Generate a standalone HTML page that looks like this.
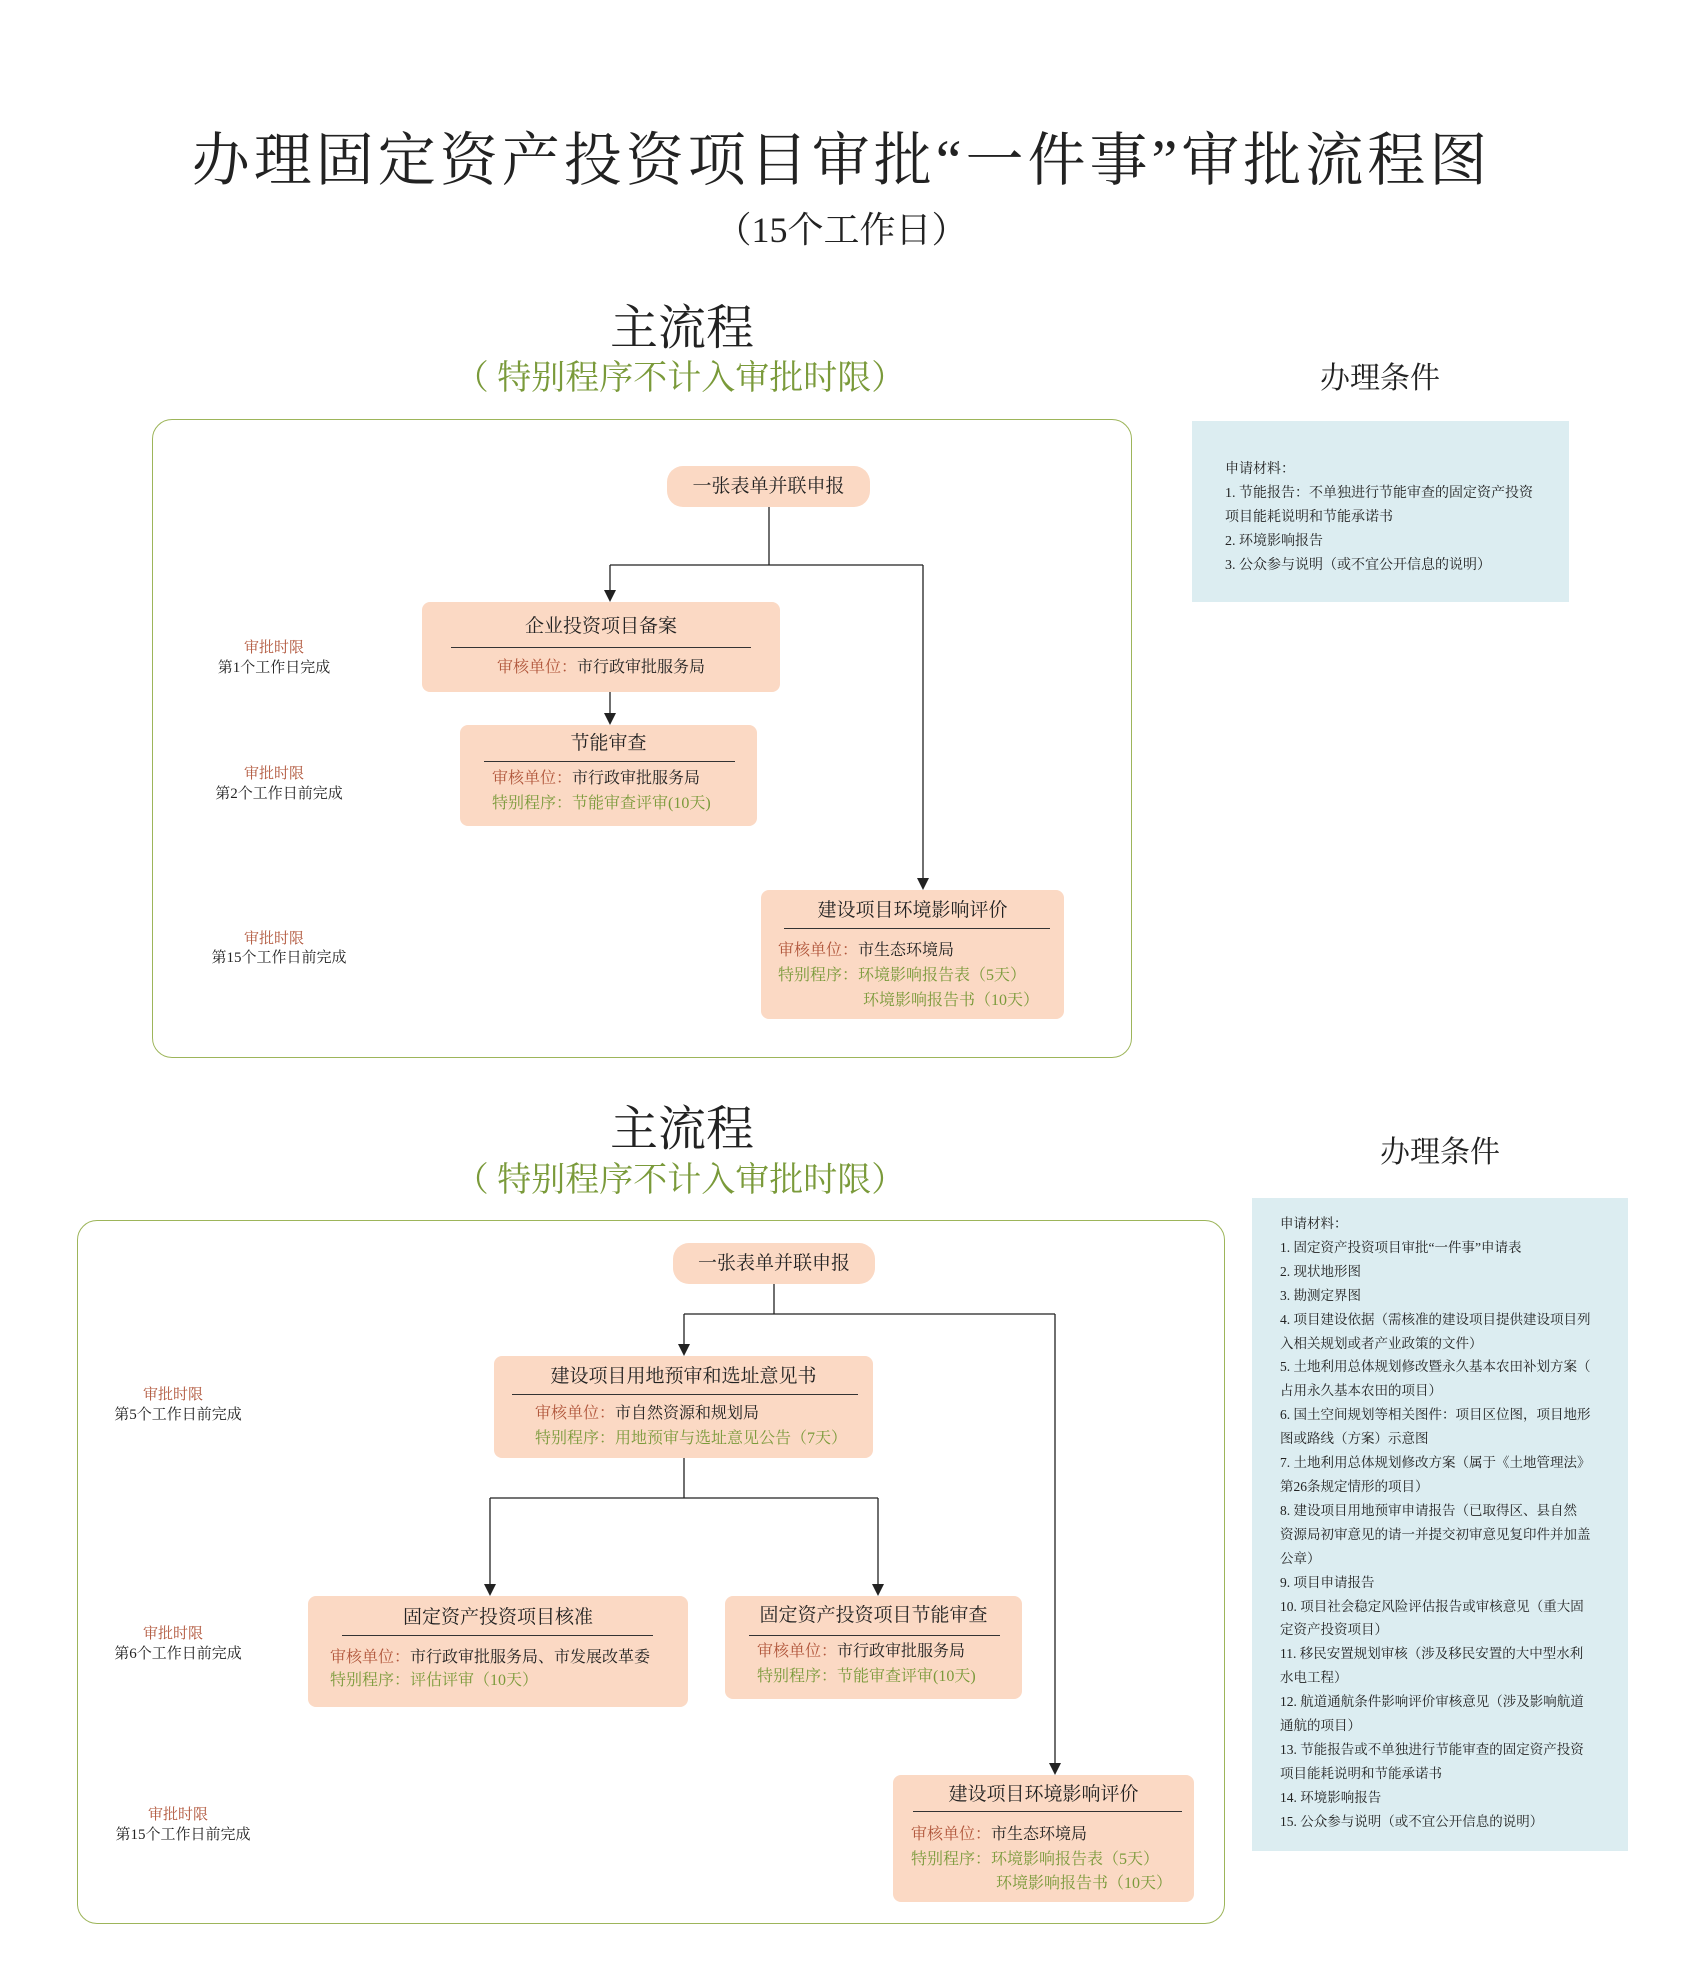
<!DOCTYPE html>
<html><head><meta charset="utf-8"><style>
body{margin:0;background:#fff}
#p{position:relative;width:1683px;height:1977px;overflow:hidden;font-family:"Liberation Serif","Noto Serif CJK SC","Noto Sans CJK SC",serif;color:#222}
.t{position:absolute;white-space:nowrap;line-height:1}
.c{text-align:center}
.box{position:absolute;background:#fbd9c4;border-radius:8px}
.pill{position:absolute;background:#fbd9c4;border-radius:16px}
.hr{position:absolute;height:1px;background:#333}
.r{color:#b0553a}.g{color:#7a9a3a}
.frame{position:absolute;border:1.5px solid #9db55a;border-radius:20px}
.blue{position:absolute;background:#dcedf1}
svg{position:absolute;left:0;top:0}
</style></head><body><div id="p">

<div class="t c" style="left:0;width:1683px;top:132px;font-size:58px;letter-spacing:4px">办理固定资产投资项目审批“一件事”审批流程图</div>
<div class="t c" style="left:0;width:1683px;top:212px;font-size:36px">（15个工作日）</div>

<!-- section 1 -->
<div class="t c" style="left:532px;width:300px;top:305px;font-size:48px">主流程</div>
<div class="t c g" style="left:430px;width:500px;top:362px;font-size:34px">（ 特别程序不计入审批时限）</div>
<div class="t c" style="left:1280px;width:200px;top:364px;font-size:30px">办理条件</div>

<div class="frame" style="left:152px;top:419px;width:978px;height:637px"></div>
<div class="blue" style="left:1192px;top:421px;width:377px;height:181px"></div>
<div class="t" style="left:1225px;top:458px;font-size:14px;line-height:24px">申请材料：<br>1. 节能报告：不单独进行节能审查的固定资产投资<br>项目能耗说明和节能承诺书<br>2. 环境影响报告<br>3. 公众参与说明（或不宜公开信息的说明）</div>

<div class="pill" style="left:667px;top:466px;width:203px;height:41px"></div>
<div class="t c" style="left:667px;width:203px;top:477px;font-size:19px">一张表单并联申报</div>

<div class="box" style="left:422px;top:602px;width:358px;height:90px"></div>
<div class="t c" style="left:422px;width:358px;top:617px;font-size:19px">企业投资项目备案</div>
<div class="hr" style="left:451px;top:647px;width:300px"></div>
<div class="t c" style="left:422px;width:358px;top:660px;font-size:16px"><span class="r">审核单位：</span>市行政审批服务局</div>

<div class="box" style="left:460px;top:725px;width:297px;height:101px"></div>
<div class="t c" style="left:460px;width:297px;top:734px;font-size:19px">节能审查</div>
<div class="hr" style="left:484px;top:761px;width:251px"></div>
<div class="t" style="left:492px;top:771px;font-size:16px"><span class="r">审核单位：</span>市行政审批服务局</div>
<div class="t g" style="left:492px;top:796px;font-size:16px">特别程序：节能审查评审(10天)</div>

<div class="box" style="left:761px;top:890px;width:303px;height:129px"></div>
<div class="t c" style="left:761px;width:303px;top:901px;font-size:19px">建设项目环境影响评价</div>
<div class="hr" style="left:784px;top:928px;width:266px"></div>
<div class="t" style="left:778px;top:943px;font-size:16px"><span class="r">审核单位：</span>市生态环境局</div>
<div class="t g" style="left:778px;top:968px;font-size:16px">特别程序：环境影响报告表（5天）</div>
<div class="t g" style="left:863px;top:993px;font-size:16px">环境影响报告书（10天）</div>

<div class="t c r" style="left:174px;width:200px;top:641px;font-size:15px">审批时限</div>
<div class="t c" style="left:174px;width:200px;top:661px;font-size:15px">第1个工作日完成</div>
<div class="t c r" style="left:174px;width:200px;top:767px;font-size:15px">审批时限</div>
<div class="t c" style="left:179px;width:200px;top:787px;font-size:15px">第2个工作日前完成</div>
<div class="t c r" style="left:174px;width:200px;top:932px;font-size:15px">审批时限</div>
<div class="t c" style="left:179px;width:200px;top:951px;font-size:15px">第15个工作日前完成</div>

<!-- section 2 -->
<div class="t c" style="left:532px;width:300px;top:1106px;font-size:48px">主流程</div>
<div class="t c g" style="left:430px;width:500px;top:1164px;font-size:34px">（ 特别程序不计入审批时限）</div>
<div class="t c" style="left:1340px;width:200px;top:1138px;font-size:30px">办理条件</div>

<div class="frame" style="left:77px;top:1220px;width:1146px;height:702px"></div>
<div class="blue" style="left:1252px;top:1198px;width:376px;height:653px"></div>
<div class="t" style="left:1280px;top:1212px;font-size:13.5px;line-height:23.9px">申请材料：<br>1. 固定资产投资项目审批“一件事”申请表<br>2. 现状地形图<br>3. 勘测定界图<br>4. 项目建设依据（需核准的建设项目提供建设项目列<br>入相关规划或者产业政策的文件）<br>5. 土地利用总体规划修改暨永久基本农田补划方案（<br>占用永久基本农田的项目）<br>6. 国土空间规划等相关图件：项目区位图，项目地形<br>图或路线（方案）示意图<br>7. 土地利用总体规划修改方案（属于《土地管理法》<br>第26条规定情形的项目）<br>8. 建设项目用地预审申请报告（已取得区、县自然<br>资源局初审意见的请一并提交初审意见复印件并加盖<br>公章）<br>9. 项目申请报告<br>10. 项目社会稳定风险评估报告或审核意见（重大固<br>定资产投资项目）<br>11. 移民安置规划审核（涉及移民安置的大中型水利<br>水电工程）<br>12. 航道通航条件影响评价审核意见（涉及影响航道<br>通航的项目）<br>13. 节能报告或不单独进行节能审查的固定资产投资<br>项目能耗说明和节能承诺书<br>14. 环境影响报告<br>15. 公众参与说明（或不宜公开信息的说明）</div>

<div class="pill" style="left:673px;top:1243px;width:202px;height:41px"></div>
<div class="t c" style="left:673px;width:202px;top:1254px;font-size:19px">一张表单并联申报</div>

<div class="box" style="left:494px;top:1356px;width:379px;height:102px"></div>
<div class="t c" style="left:494px;width:379px;top:1367px;font-size:19px">建设项目用地预审和选址意见书</div>
<div class="hr" style="left:512px;top:1394px;width:346px"></div>
<div class="t" style="left:535px;top:1406px;font-size:16px"><span class="r">审核单位：</span>市自然资源和规划局</div>
<div class="t g" style="left:535px;top:1431px;font-size:16px">特别程序：用地预审与选址意见公告（7天）</div>

<div class="box" style="left:308px;top:1596px;width:380px;height:111px"></div>
<div class="t c" style="left:308px;width:380px;top:1608px;font-size:19px">固定资产投资项目核准</div>
<div class="hr" style="left:342px;top:1635px;width:311px"></div>
<div class="t" style="left:330px;top:1650px;font-size:16px"><span class="r">审核单位：</span>市行政审批服务局、市发展改革委</div>
<div class="t g" style="left:330px;top:1673px;font-size:16px">特别程序：评估评审（10天）</div>

<div class="box" style="left:725px;top:1596px;width:297px;height:103px"></div>
<div class="t c" style="left:725px;width:297px;top:1606px;font-size:19px">固定资产投资项目节能审查</div>
<div class="hr" style="left:749px;top:1635px;width:251px"></div>
<div class="t" style="left:757px;top:1644px;font-size:16px"><span class="r">审核单位：</span>市行政审批服务局</div>
<div class="t g" style="left:757px;top:1669px;font-size:16px">特别程序：节能审查评审(10天)</div>

<div class="box" style="left:893px;top:1775px;width:301px;height:127px"></div>
<div class="t c" style="left:893px;width:301px;top:1785px;font-size:19px">建设项目环境影响评价</div>
<div class="hr" style="left:913px;top:1811px;width:269px"></div>
<div class="t" style="left:911px;top:1827px;font-size:16px"><span class="r">审核单位：</span>市生态环境局</div>
<div class="t g" style="left:911px;top:1852px;font-size:16px">特别程序：环境影响报告表（5天）</div>
<div class="t g" style="left:996px;top:1876px;font-size:16px">环境影响报告书（10天）</div>

<div class="t c r" style="left:73px;width:200px;top:1388px;font-size:15px">审批时限</div>
<div class="t c" style="left:78px;width:200px;top:1408px;font-size:15px">第5个工作日前完成</div>
<div class="t c r" style="left:73px;width:200px;top:1627px;font-size:15px">审批时限</div>
<div class="t c" style="left:78px;width:200px;top:1647px;font-size:15px">第6个工作日前完成</div>
<div class="t c r" style="left:78px;width:200px;top:1808px;font-size:15px">审批时限</div>
<div class="t c" style="left:83px;width:200px;top:1828px;font-size:15px">第15个工作日前完成</div>

<svg width="1683" height="1977" fill="none" stroke="#222" stroke-width="1.3">
<g>
<path d="M769 507V565M610 565H923M610 565V592M923 565V880M610 692V715"/>
<path d="M774 1284V1314M684 1314H1055M684 1314V1346M1055 1314V1763M684 1458V1498M490 1498H878M490 1498V1585M878 1498V1585"/>
</g>
<g fill="#222" stroke="none">
<polygon points="604,590 616,590 610,602"/>
<polygon points="917,878 929,878 923,890"/>
<polygon points="604,713 616,713 610,725"/>
<polygon points="678,1344 690,1344 684,1356"/>
<polygon points="1049,1763 1061,1763 1055,1775"/>
<polygon points="484,1584 496,1584 490,1596"/>
<polygon points="872,1584 884,1584 878,1596"/>
</g>
</svg>
</div></body></html>
